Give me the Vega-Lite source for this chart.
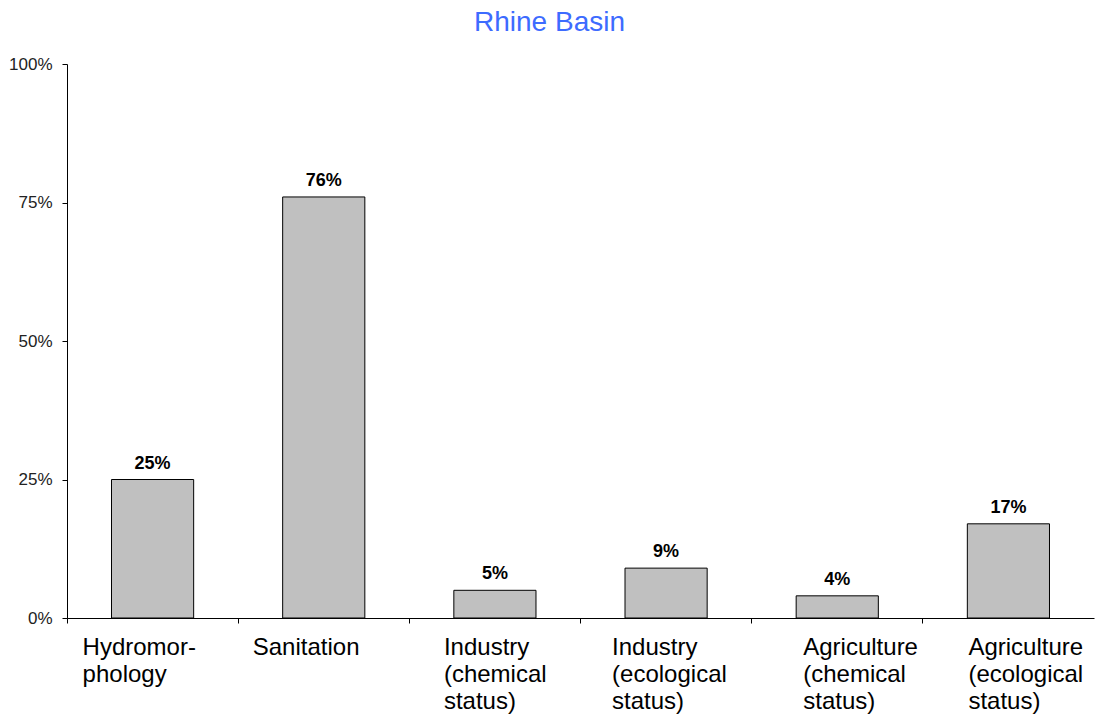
{
  "$schema": "https://vega.github.io/schema/vega-lite/v6.json",
  "width": 1027,
  "height": 554,
  "autosize": {"type": "none"},
  "padding": {"left": 67, "top": 64, "right": 2, "bottom": 98},
  "background": "white",
  "title": {
    "text": "Rhine Basin",
    "font": "Liberation Sans",
    "fontSize": 28,
    "fontWeight": "normal",
    "color": "#3D6BFF",
    "anchor": "middle",
    "frame": "group",
    "dx": -31,
    "offset": 18
  },
  "config": {
    "view": {"stroke": null},
    "font": "Liberation Sans"
  },
  "data": {
    "values": [
      {"category": "Hydromor-|phology", "share": 25},
      {"category": "Sanitation", "share": 76},
      {"category": "Industry|(chemical|status)", "share": 5},
      {"category": "Industry|(ecological|status)", "share": 9},
      {"category": "Agriculture|(chemical|status)", "share": 4},
      {"category": "Agriculture|(ecological|status)", "share": 17}
    ]
  },
  "encoding": {
    "x": {
      "field": "category",
      "type": "nominal",
      "sort": null,
      "scale": {"paddingInner": 0, "paddingOuter": 0},
      "axis": {
        "title": null,
        "bandPosition": 0,
        "labelExpr": "split(datum.label, '|')",
        "labelAlign": "left",
        "labelBaseline": "top",
        "labelAngle": 0,
        "labelOffset": {
          "condition": [
            {"test": "datum.value == 'Hydromor-|phology'", "value": -70},
            {"test": "datum.value == 'Sanitation'", "value": -71},
            {"test": "datum.value == 'Industry|(chemical|status)'", "value": -51},
            {"test": "datum.value == 'Industry|(ecological|status)'", "value": -54},
            {"test": "datum.value == 'Agriculture|(chemical|status)'", "value": -34}
          ],
          "value": -40
        },
        "labelPadding": 12,
        "labelFontSize": 24,
        "labelLineHeight": 27,
        "labelColor": "black",
        "labelFont": "Liberation Sans",
        "labelOverlap": false,
        "tickSize": 5,
        "tickColor": "black",
        "domainColor": "black",
        "labelLimit": 0
      }
    },
    "y": {
      "field": "share",
      "type": "quantitative",
      "scale": {"domain": [0, 100], "nice": false},
      "axis": {
        "title": null,
        "values": [0, 25, 50, 75, 100],
        "labelExpr": "datum.value + '%'",
        "grid": false,
        "labelFontSize": 17,
        "labelColor": "#222222",
        "labelFont": "Liberation Sans",
        "labelPadding": 10,
        "tickSize": 5,
        "tickColor": "black",
        "domainColor": "black"
      }
    }
  },
  "layer": [
    {
      "mark": {
        "type": "bar",
        "width": {"band": 0.48},
        "fill": "#C0C0C0",
        "stroke": "black",
        "strokeWidth": 1
      }
    },
    {
      "mark": {
        "type": "text",
        "baseline": "alphabetic",
        "dy": -11,
        "fontSize": 18,
        "fontWeight": "bold",
        "font": "Liberation Sans",
        "color": "black"
      },
      "encoding": {
        "text": {"value": {"expr": "datum.share + '%'"}}
      }
    }
  ]
}
